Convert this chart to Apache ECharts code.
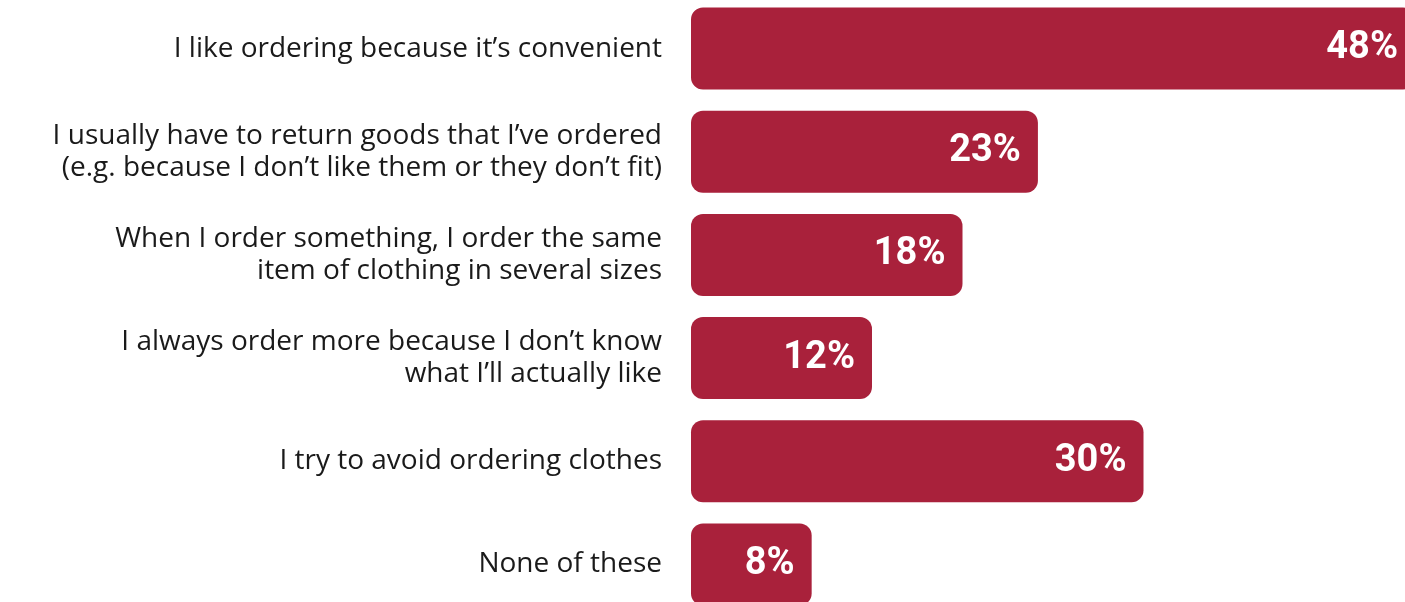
<!DOCTYPE html>
<html>
<head>
<meta charset="utf-8">
<script src="https://cdn.jsdelivr.net/npm/echarts@6/dist/echarts.min.js"></script>
<style>
html,body{margin:0;padding:0;background:#fff;overflow:hidden;width:1405px;height:602px;position:relative;}
#chart{width:1415px;height:619px;position:absolute;left:0;top:-3px;}
</style>
</head>
<body>
<div id="chart"></div>
<script>
var categories = [
  "I like ordering because it\u2019s convenient",
  "I usually have to return goods that I\u2019ve ordered\n(e.g. because I don\u2019t like them or they don\u2019t fit)",
  "When I order something, I order the same\nitem of clothing in several sizes",
  "I always order more because I don\u2019t know\nwhat I\u2019ll actually like",
  "I try to avoid ordering clothes",
  "None of these"
];
var values = [48, 23, 18, 12, 30, 8];

var chart = echarts.init(document.getElementById('chart'), null, {renderer: 'canvas'});
chart.setOption({
  animation: false,
  backgroundColor: '#ffffff',
  grid: {left: 691, right: 0, top: 0, bottom: 0, containLabel: false},
  xAxis: {
    type: 'value', min: 0, max: 48, show: false
  },
  yAxis: {
    type: 'category', data: categories, inverse: true,
    axisLine: {show: false}, axisTick: {show: false}, splitLine: {show: false},
    axisLabel: {
      margin: 29, fontFamily: 'Open Sans', fontSize: 28, lineHeight: 32,
      color: '#1a1a1a', align: 'right'
    }
  },
  series: [{
    type: 'bar', data: values, barWidth: 82,
    itemStyle: {color: '#A9213B', borderRadius: 12},
    label: {
      show: true, position: 'insideRight', distance: 17,
      formatter: '{c}%', color: '#ffffff',
      fontFamily: 'Roboto', fontWeight: 'bold', fontSize: 38
    }
  }]
});
</script>
</body>
</html>
